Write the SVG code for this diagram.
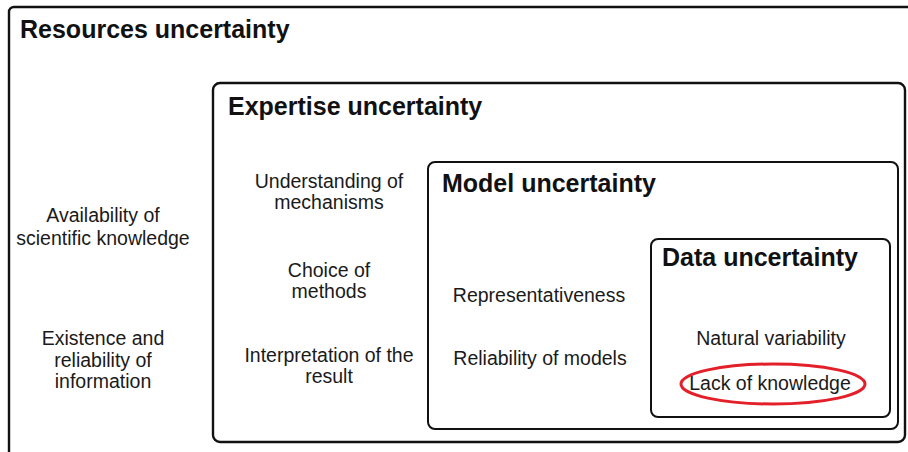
<svg xmlns="http://www.w3.org/2000/svg" width="908" height="452" viewBox="0 0 908 452">
<style>
.box{fill:none;stroke:#111;stroke-width:2.4}
.title{font-family:"Liberation Sans",Arial,sans-serif;font-weight:bold;font-size:25px;fill:#111}
.lbl{font-family:"Liberation Sans",Arial,sans-serif;font-size:19.5px;fill:#1a1a1a;text-anchor:middle}
</style>
<rect width="908" height="452" fill="#fff"/>
<g id="resources">
<rect class="box" x="9" y="7" width="930" height="470" rx="5"/>
<text class="title" x="20" y="38">Resources uncertainty</text>
<text class="lbl" x="103" y="222">Availability of</text>
<text class="lbl" x="103" y="245">scientific knowledge</text>
<text class="lbl" x="103" y="345">Existence and</text>
<text class="lbl" x="103" y="367">reliability of</text>
<text class="lbl" x="103" y="388">information</text>
</g>
<g id="expertise">
<rect class="box" x="213" y="83" width="692" height="359" rx="7"/>
<text class="title" x="228" y="115">Expertise uncertainty</text>
<text class="lbl" x="329" y="188">Understanding of</text>
<text class="lbl" x="329" y="209">mechanisms</text>
<text class="lbl" x="329" y="277">Choice of</text>
<text class="lbl" x="329" y="298">methods</text>
<text class="lbl" x="329" y="362">Interpretation of the</text>
<text class="lbl" x="329" y="383">result</text>
</g>
<g id="model">
<rect class="box" x="428" y="162" width="470" height="267" rx="7" style="stroke-width:2"/>
<text class="title" x="442" y="192">Model uncertainty</text>
<text class="lbl" x="539" y="302">Representativeness</text>
<text class="lbl" x="540" y="365">Reliability of models</text>
</g>
<g id="data">
<rect class="box" x="651" y="239" width="239" height="178" rx="7" style="stroke-width:2"/>
<text class="title" x="662" y="266">Data uncertainty</text>
<text class="lbl" x="771" y="345">Natural variability</text>
<text class="lbl" x="770" y="390">Lack of knowledge</text>
</g>
<g id="highlight">
<ellipse cx="773" cy="384" rx="92" ry="20" fill="none" stroke="#e3202a" stroke-width="3"/>
</g>
<g id="connectors"></g>
</svg>
